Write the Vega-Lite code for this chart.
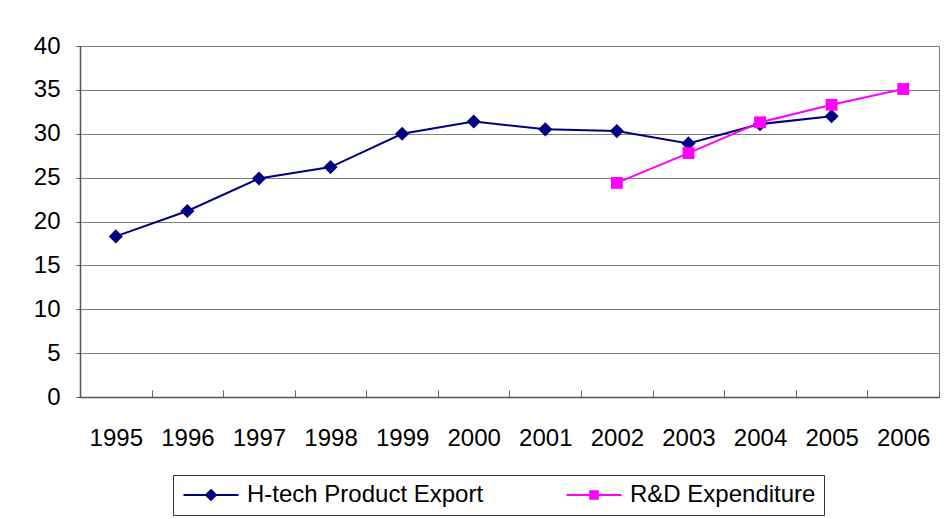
{
  "$schema": "https://vega.github.io/schema/vega-lite/v6.json",
  "width": 859,
  "height": 351,
  "autosize": {"type": "none"},
  "padding": {"left": 80, "top": 46, "right": 10, "bottom": 122},
  "background": "white",
  "config": {
    "view": {"stroke": "#808080", "strokeWidth": 1},
    "font": "Liberation Sans"
  },
  "data": {
    "values": [
      {"year": "1995", "series": "H-tech Product Export", "value": 18.3},
      {"year": "1996", "series": "H-tech Product Export", "value": 21.2},
      {"year": "1997", "series": "H-tech Product Export", "value": 24.9},
      {"year": "1998", "series": "H-tech Product Export", "value": 26.2},
      {"year": "1999", "series": "H-tech Product Export", "value": 30.0},
      {"year": "2000", "series": "H-tech Product Export", "value": 31.4},
      {"year": "2001", "series": "H-tech Product Export", "value": 30.5},
      {"year": "2002", "series": "H-tech Product Export", "value": 30.3},
      {"year": "2003", "series": "H-tech Product Export", "value": 28.9},
      {"year": "2004", "series": "H-tech Product Export", "value": 31.1},
      {"year": "2005", "series": "H-tech Product Export", "value": 32.0},
      {"year": "2002", "series": "R&D Expenditure", "value": 24.4},
      {"year": "2003", "series": "R&D Expenditure", "value": 27.8},
      {"year": "2004", "series": "R&D Expenditure", "value": 31.3},
      {"year": "2005", "series": "R&D Expenditure", "value": 33.3},
      {"year": "2006", "series": "R&D Expenditure", "value": 35.1}
    ]
  },
  "encoding": {
    "x": {
      "field": "year",
      "type": "ordinal",
      "bandPosition": 0.5,
      "scale": {"type": "band", "paddingInner": 0, "paddingOuter": 0,
        "domain": ["1995","1996","1997","1998","1999","2000","2001","2002","2003","2004","2005","2006"]},
      "axis": {
        "title": null,
        "labelAngle": 0,
        "labelFontSize": 24,
        "labelColor": "black",
        "labelFont": "Liberation Sans",
        "labelPadding": 36,
        "tickBand": "extent",
        "tickSize": -7,
        "tickColor": "#666666",
        "domainColor": "#555555",
        "domainWidth": 1.5,
        "grid": false
      }
    },
    "y": {
      "field": "value",
      "type": "quantitative",
      "scale": {"domain": [0, 40], "nice": false, "zero": true},
      "axis": {
        "title": null,
        "values": [0, 5, 10, 15, 20, 25, 30, 35, 40],
        "labelFontSize": 24,
        "labelColor": "black",
        "labelFont": "Liberation Sans",
        "labelPadding": 16,
        "tickSize": 4,
        "tickColor": "#555555",
        "domainColor": "#555555",
        "domainWidth": 1.5,
        "grid": true,
        "gridColor": "#808080",
        "gridWidth": 1,
        "gridOpacity": 1
      }
    },
    "color": {
      "field": "series",
      "type": "nominal",
      "scale": {"domain": ["H-tech Product Export", "R&D Expenditure"], "range": ["#000080", "#FF00FF"]},
      "legend": {
        "title": null,
        "orient": "none",
        "legendX": 93,
        "legendY": 429,
        "direction": "horizontal",
        "strokeColor": "#333333",
        "fillColor": "white",
        "padding": 8,
        "symbolSize": 484,
        "symbolOffset": 18,
        "labelOffset": 24,
        "columnPadding": 78,
        "labelFontSize": 24,
        "labelFont": "Liberation Sans",
        "labelColor": "black",
        "labelLimit": 0,
        "symbolStrokeWidth": 2,
        "encode": {
          "symbols": {
            "update": {
              "shape": {"signal": "datum.value === 'R&D Expenditure' ? 'M-2.5,0H2.5M-0.35,-0.35H0.35V0.35H-0.35Z' : 'M-2.5,0H2.5M0,-0.45L0.45,0L0,0.45L-0.45,0Z'"},
              "fill": {"signal": "datum.value === 'R&D Expenditure' ? '#FF00FF' : '#000080'"},
              "stroke": {"signal": "datum.value === 'R&D Expenditure' ? '#FF00FF' : '#000080'"},
              "strokeWidth": {"value": 2},
              "opacity": {"value": 1},
              "fillOpacity": {"value": 1}
            }
          }
        }
      }
    }
  },
  "layer": [
    {
      "mark": {"type": "line", "strokeWidth": 2},
      "encoding": {"detail": {"field": "series"}}
    },
    {
      "transform": [{"filter": "datum.series === 'H-tech Product Export'"}],
      "mark": {"type": "point", "shape": "diamond", "filled": true, "opacity": 1, "size": 200}
    },
    {
      "transform": [{"filter": "datum.series === 'R&D Expenditure'"}],
      "mark": {"type": "point", "shape": "square", "filled": true, "opacity": 1, "size": 140}
    }
  ]
}
